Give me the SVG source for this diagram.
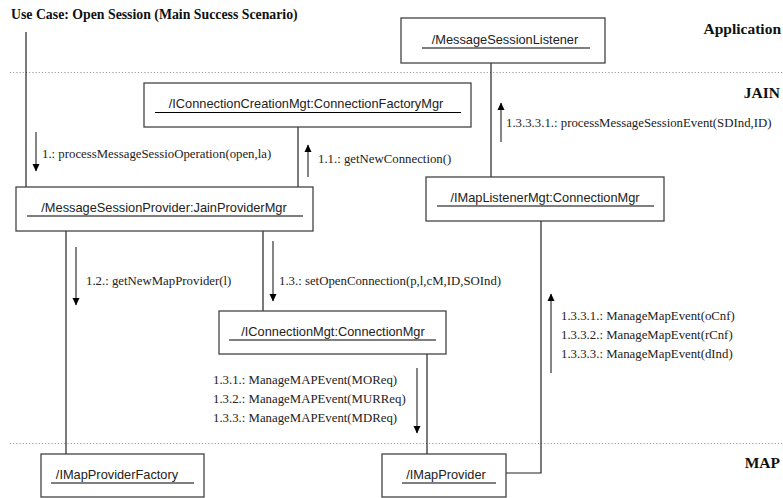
<svg xmlns="http://www.w3.org/2000/svg" width="783" height="498" viewBox="0 0 783 498">
<style>
.box{fill:#fff;stroke:#444;stroke-width:1.3}
.ul{stroke:#000;stroke-width:1.2}
.nt{font-family:"Liberation Sans",Arial,sans-serif;font-size:12.8px;fill:#222;text-anchor:middle}
.lbl{font-family:"Liberation Serif","Times New Roman",serif;font-size:12.8px;fill:#222}
.hd{font-family:"Liberation Serif","Times New Roman",serif;font-weight:bold;fill:#111}
.link{stroke:#222;stroke-width:1.2;fill:none}
.arr{stroke:#222;stroke-width:1.1;fill:none;marker-end:url(#ah)}
.sep{stroke:#888;stroke-width:1;stroke-dasharray:1 2.2}
</style>
<defs>
<marker id="ah" markerUnits="userSpaceOnUse" markerWidth="8" markerHeight="10" refX="7" refY="4" orient="auto">
<path d="M0,0.5 L7.5,4 L0,7.5 z" fill="#000"/>
</marker>
</defs>
<text class="hd" x="11" y="19" font-size="13.8">Use Case: Open Session (Main Success Scenario)</text>
<text class="hd" x="781" y="34" font-size="15.5" text-anchor="end">Application</text>
<text class="hd" x="780" y="98" font-size="15.5" text-anchor="end">JAIN</text>
<text class="hd" x="780" y="468" font-size="15.5" text-anchor="end">MAP</text>
<line class="sep" x1="10" y1="72.5" x2="783" y2="72.5"/>
<line class="sep" x1="10" y1="443.5" x2="783" y2="443.5"/>
<g id="connectors">
<line class="link" x1="26" y1="32" x2="26" y2="187"/>
<line class="link" x1="298" y1="127" x2="298" y2="187"/>
<line class="link" x1="491" y1="63" x2="491" y2="177"/>
<line class="link" x1="66" y1="231" x2="66" y2="454"/>
<line class="link" x1="263" y1="231" x2="263" y2="311"/>
<line class="link" x1="427" y1="354" x2="427" y2="454"/>
<polyline class="link" points="541,221 541,473 506,473"/>
<line class="arr" x1="36" y1="132" x2="36" y2="171"/>
<text class="lbl" x="42" y="158">1.: processMessageSessioOperation(open,la)</text>
<line class="arr" x1="308" y1="177" x2="308" y2="145"/>
<text class="lbl" x="318" y="163">1.1.: getNewConnection()</text>
<line class="arr" x1="501" y1="142" x2="501" y2="103"/>
<text class="lbl" x="506" y="127">1.3.3.3.1.: processMessageSessionEvent(SDInd,ID)</text>
<line class="arr" x1="76" y1="247" x2="76" y2="305"/>
<text class="lbl" x="86" y="285">1.2.: getNewMapProvider(l)</text>
<line class="arr" x1="273" y1="241" x2="273" y2="301"/>
<text class="lbl" x="279" y="285">1.3.: setOpenConnection(p,l,cM,ID,SOInd)</text>
<line class="arr" x1="417" y1="368" x2="417" y2="433"/>
<text class="lbl" x="213" y="384">1.3.1.: ManageMAPEvent(MOReq)</text>
<text class="lbl" x="213" y="403">1.3.2.: ManageMAPEvent(MURReq)</text>
<text class="lbl" x="213" y="422">1.3.3.: ManageMAPEvent(MDReq)</text>
<line class="arr" x1="551" y1="373" x2="551" y2="294"/>
<text class="lbl" x="561" y="320">1.3.3.1.: ManageMapEvent(oCnf)</text>
<text class="lbl" x="561" y="339">1.3.3.2.: ManageMapEvent(rCnf)</text>
<text class="lbl" x="561" y="358">1.3.3.3.: ManageMapEvent(dInd)</text>
</g>
<g id="n-listener">
<rect class="box" x="401" y="18" width="204" height="45"/>
<text class="nt" x="505" y="44">/MessageSessionListener</text>
<line class="ul" x1="422" y1="48" x2="590" y2="48"/>
</g>
<g id="n-factorymgr">
<rect class="box" x="144" y="83" width="327" height="44"/>
<text class="nt" x="306" y="108">/IConnectionCreationMgt:ConnectionFactoryMgr</text>
<line class="ul" x1="155" y1="112.5" x2="461" y2="112.5"/>
</g>
<g id="n-providermgr">
<rect class="box" x="16" y="187" width="297" height="44"/>
<text class="nt" x="164" y="212">/MessageSessionProvider:JainProviderMgr</text>
<line class="ul" x1="27" y1="216" x2="303" y2="216"/>
</g>
<g id="n-listenermgt">
<rect class="box" x="426" y="177" width="238" height="44"/>
<text class="nt" x="545" y="202">/IMapListenerMgt:ConnectionMgr</text>
<line class="ul" x1="437" y1="206" x2="654" y2="206"/>
</g>
<g id="n-connmgr">
<rect class="box" x="219" y="311" width="227" height="43"/>
<text class="nt" x="333" y="336">/IConnectionMgt:ConnectionMgr</text>
<line class="ul" x1="229" y1="340" x2="436" y2="340"/>
</g>
<g id="n-providerfactory">
<rect class="box" x="41" y="454" width="163" height="43"/>
<text class="nt" x="117" y="479">/IMapProviderFactory</text>
<line class="ul" x1="51" y1="483" x2="194" y2="483"/>
</g>
<g id="n-mapprovider">
<rect class="box" x="382" y="454" width="124" height="43"/>
<text class="nt" x="446" y="479">/IMapProvider</text>
<line class="ul" x1="402" y1="483" x2="496" y2="483"/>
</g>
</svg>
